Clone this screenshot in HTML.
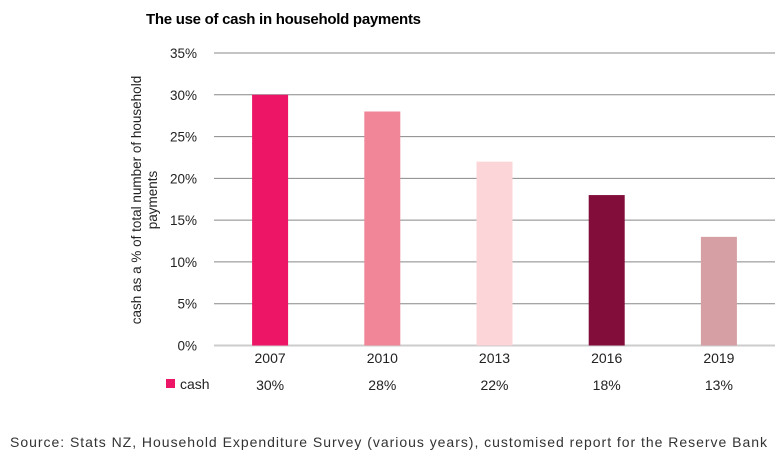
<!DOCTYPE html>
<html><head><meta charset="utf-8"><style>
body{margin:0;background:#fff;width:779px;height:453px;overflow:hidden;font-family:"Liberation Sans",sans-serif}
</style></head><body>
<svg width="779" height="453" font-family="Liberation Sans, sans-serif">
<text x="146" y="24" font-size="15" font-weight="bold" fill="#000" textLength="275">The use of cash in household payments</text>
<g id="grid"></g><g id="bars"></g><g id="labels"></g>
<text transform="translate(141,200) rotate(-90)" text-anchor="middle" font-size="13.5" fill="#222"><tspan x="0" dy="0">cash as a % of total number of household</tspan><tspan x="0" dy="16">payments</tspan></text>
<rect x="166" y="379" width="9" height="9" fill="#ED1566"/>
<text x="180" y="389" font-size="14" fill="#222">cash</text>
<text x="10" y="447" font-size="14" fill="#333" textLength="757" lengthAdjust="spacing">Source: Stats NZ, Household Expenditure Survey (various years), customised report for the Reserve Bank</text>
</svg>
<script>
const categories=["2007","2010","2013","2016","2019"];
const values=[30,28,22,18,13];
const colors=["#ED1566","#F28699","#FBD5D8","#820C3A","#D59FA4"];
const ticks=[0,5,10,15,20,25,30,35];
const NS="http://www.w3.org/2000/svg";
const x0=214,x1=775,y0=345.5,ppu=(345.5-53)/35;
const y=v=>y0-v*ppu;
const cw=(x1-x0)/categories.length;
function mk(t,a,p){const e=document.createElementNS(NS,t);for(const k in a)e.setAttribute(k,a[k]);p.appendChild(e);return e;}
const g=document.getElementById('grid'),b=document.getElementById('bars'),l=document.getElementById('labels');
ticks.forEach(t=>{
 const ln=mk('line',{x1:x0,x2:x1,y1:y(t),y2:y(t),stroke:t===0?'#ccc':'#888','stroke-width':t===0?2:1},g);
 
 
 const tx=mk('text',{x:197,y:y(t)+5,'text-anchor':'end','font-size':13.5,fill:'#222'},l);
 tx.textContent=t+'%';
 
 
});
categories.forEach((c,i)=>{
 const cx=x0+cw*(i+0.5);
 const r=mk('rect',{x:cx-18,y:y(values[i]),width:36,height:y0-y(values[i]),fill:colors[i]},b);
 
 
 const t=mk('text',{x:cx,y:363,'text-anchor':'middle','font-size':14,fill:'#222'},l);
 t.textContent=c;
 
 
 const v=mk('text',{x:cx,y:390,'text-anchor':'middle','font-size':14,fill:'#222'},l);
 v.textContent=values[i]+'%';
 
 
});
</script>
</body></html>
